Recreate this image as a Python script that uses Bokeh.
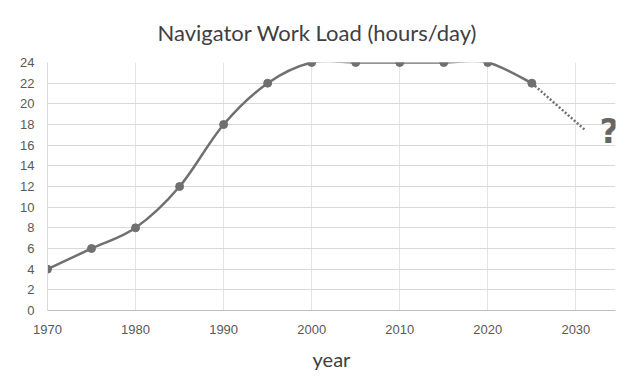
from bokeh.plotting import figure
from bokeh.models import Range1d, FixedTicker, ColumnDataSource
from bokeh.core.properties import value
from bokeh.embed import file_html
from bokeh.resources import INLINE

years = [1970, 1975, 1980, 1985, 1990, 1995, 2000, 2005, 2010, 2015, 2020, 2025]
hours = [4, 6, 8, 12, 18, 22, 24, 24, 24, 24, 24, 22]
proj_years = [2025, 2031]
proj_hours = [22, 17.5]
x_ticks = [1970, 1980, 1990, 2000, 2010, 2020, 2030]
y_ticks = list(range(0, 25, 2))
title_text = "Navigator Work Load (hours/day)"
x_label = "year"
mark_text = "?"
mark_year = 2033.8
mark_hours = 17.4

GREY = "#707070"

p = figure(width=631, height=378, output_backend="svg", toolbar_location=None,
           x_range=Range1d(1970, 2034.5), y_range=Range1d(0, 24),
           min_border_left=47, min_border_right=16, min_border_top=62, min_border_bottom=68)
p.outline_line_color = None
p.background_fill_color = "white"

p.title.text = title_text
p.title.text_font = "Lato"
p.title.text_font_size = "22px"
p.title.text_font_style = "normal"
p.title.text_color = "#404040"
p.title.align = "left"
p.title.offset = 110
p.title.standoff = 33

# smooth line via Catmull-Rom -> Bezier
n = len(years)
x0, y0, x1, y1, cx0, cy0, cx1, cy1 = [], [], [], [], [], [], [], []
for i in range(n - 1):
    xp = years[i - 1] if i > 0 else years[i]
    yp = hours[i - 1] if i > 0 else hours[i]
    xn = years[i + 2] if i + 2 < n else years[i + 1]
    yn = hours[i + 2] if i + 2 < n else hours[i + 1]
    x0.append(years[i]); y0.append(hours[i])
    x1.append(years[i + 1]); y1.append(hours[i + 1])
    cx0.append(years[i] + (years[i + 1] - xp) / 6)
    cy0.append(hours[i] + (hours[i + 1] - yp) / 6)
    cx1.append(years[i + 1] - (xn - years[i]) / 6)
    cy1.append(hours[i + 1] - (yn - hours[i]) / 6)
bsrc = ColumnDataSource(dict(x0=x0, y0=y0, x1=x1, y1=y1, cx0=cx0, cy0=cy0, cx1=cx1, cy1=cy1))
p.bezier(x0="x0", y0="y0", x1="x1", y1="y1", cx0="cx0", cy0="cy0", cx1="cx1", cy1="cy1",
         source=bsrc, line_color=GREY, line_width=2.5)

p.line(proj_years, proj_hours, line_color=GREY, line_width=2.5, line_dash="2 2")
p.scatter(years, hours, size=8, fill_color=GREY, line_color=GREY)

p.text(x=[mark_year], y=[mark_hours], text=[mark_text], text_font=value("DejaVu Sans"),
       text_font_style="bold", text_font_size="34px", text_color="#666666",
       text_align="center", text_baseline="middle")

p.xaxis.ticker = FixedTicker(ticks=x_ticks)
p.yaxis.ticker = FixedTicker(ticks=y_ticks)
for ax in (p.xaxis, p.yaxis):
    ax.major_tick_line_color = None
    ax.minor_tick_line_color = None
    ax.major_label_text_font = "Liberation Sans"
    ax.major_label_text_font_size = "13px"
    ax.major_label_text_color = "#595959"
p.xaxis.axis_line_color = "#bfbfbf"
p.yaxis.axis_line_color = "#d9d9d9"
p.xaxis.major_label_standoff = 8
p.yaxis.major_label_standoff = 7
p.xaxis.axis_label = x_label
p.xaxis.axis_label_text_font = "Lato"
p.xaxis.axis_label_text_font_size = "20px"
p.xaxis.axis_label_text_font_style = "normal"
p.xaxis.axis_label_text_color = "#404040"
p.xaxis.axis_label_standoff = 10

p.ygrid.grid_line_color = "#d9d9d9"
p.ygrid.grid_line_width = 1
p.xgrid.grid_line_color = "#e4e4e4"
p.xgrid.grid_line_width = 1

open("out.html", "w").write(file_html(p, INLINE))
